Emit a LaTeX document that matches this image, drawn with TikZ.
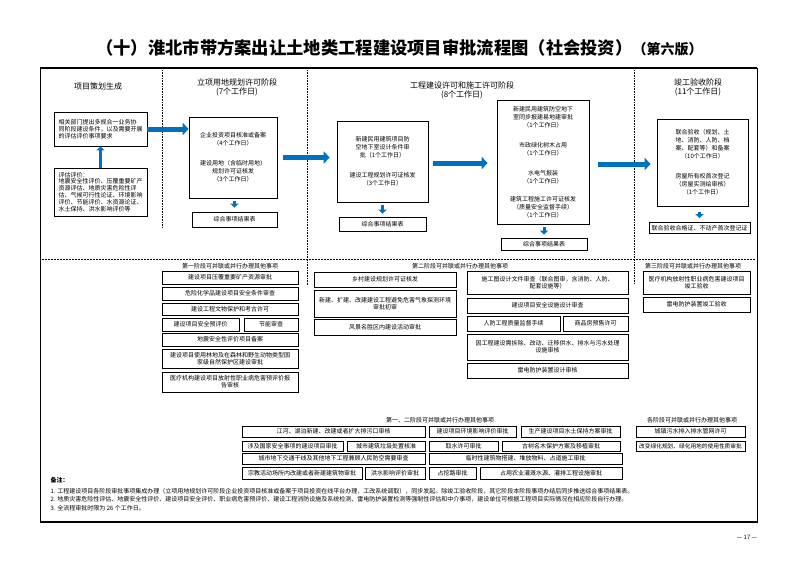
\documentclass[tikz,border=0pt]{standalone}
\usepackage{fontspec}
\newfontfamily\cjk{Noto Sans CJK SC}
\usetikzlibrary{arrows.meta}
\definecolor{arrowblue}{RGB}{0,112,192}
\tikzset{
 txt/.style={font=\cjk\fontsize{6}{7}\selectfont, align=center, inner sep=0.5pt},
 box/.style={txt, draw, line width=0.7pt},
 topbox/.style={box, font=\cjk\fontsize{6}{8}\selectfont},
 sz/.style 2 args={minimum width=#1pt, minimum height=#2pt},
 arrbig/.style={draw=arrowblue, line width=5pt, -{Triangle[length=6pt,width=12pt]}},
 arrsm/.style={draw=arrowblue, line width=3pt, -{Triangle[length=4pt,width=8pt]}},
 vdot/.style={densely dotted, line width=0.6pt},
 hdash/.style={dash pattern=on 2pt off 1pt, line width=0.5pt},
 hdr/.style={font=\cjk\fontsize{8}{9}\selectfont, align=center, inner sep=0pt},
}
\begin{document}
\begin{tikzpicture}[x=1pt,y=-1pt]
\useasboundingbox (0,0) rectangle (800,565);
\fill[white] (0,0) rectangle (800,565);

% title
\node[font=\cjk\bfseries\fontsize{17.3}{18}\selectfont, inner sep=0pt, anchor=west] (title) at (96,48)
 {（十）淮北市带方案出让土地类工程建设项目审批流程图（社会投资）{\fontsize{14}{15}\selectfont（第六版）}};

% frame
\draw[line width=0.6pt] (40,68) rectangle (757,522);
\draw[line width=1.8pt] (40,68) -- (757,68);
\draw[line width=1.8pt] (40,522) -- (757,522);

% separators
\draw[vdot] (162,70) -- (162,228);
\draw[vdot] (307,70) -- (307,285);
\draw[vdot] (634,70) -- (634,283);
\draw[hdash] (42,259) -- (755,259);

% headers
\node[hdr] (h1) at (98,86) {项目策划生成};
\node[hdr] (h2) at (237,87) {立项用地规划许可阶段\\(7个工作日)};
\node[hdr] (h3) at (462,90.5) {工程建设许可和施工许可阶段\\(8个工作日)};
\node[hdr] (h4) at (698,87) {竣工验收阶段\\(11个工作日)};

% stage 0
\node[topbox, sz={93}{34}, align=left, font=\cjk\fontsize{6}{6.8}\selectfont] (A) at (100.5,129)
 {相关部门提出多规合一业务协\\同阶段建设条件，以及需要开展\\的评估评价事项要求};
\node[topbox, sz={93}{48}, align=left, font=\cjk\fontsize{6}{6.9}\selectfont] (B) at (100.5,192)
 {评估评价：\\地震安全性评价、压覆重要矿产\\资源评估、地质灾害危险性评\\估、气候可行性论证、环境影响\\评价、节能评价、水资源论证、\\水土保持、洪水影响评价等};

% stage 1
\node[topbox, sz={88}{81}] (C) at (233,157.5)
 {企业投资项目核准或备案\\（4个工作日）\\[12pt]建设用地（含临时用地）\\规划许可证核发\\（3个工作日）};
\node[topbox, sz={85}{15}] (C2) at (234.5,219.5) {综合事项结果表};

% stage 2
\node[topbox, sz={91}{81}] (D) at (382.5,161.5)
 {新建民用建筑项目防\\空地下室设计条件审\\批（1个工作日）\\[12pt]建设工程规划许可证核发\\（3个工作日）};
\node[topbox, sz={87}{14}] (D2) at (382.5,224) {综合事项结果表};

\node[topbox, sz={92}{124}] (E) at (543,162)
 {新建民用建筑防空地下\\室同步报建易地建审批\\（1个工作日）\\[12pt]市政绿化树木占用\\（1个工作日）\\[12pt]水电气报装\\（1个工作日）\\[10pt]建筑工程施工许可证核发\\（质量安全监督手续）\\（1个工作日）};
\node[topbox, sz={86}{12}] (E2) at (544,244) {综合事项结果表};

% stage 3
\node[topbox, sz={91}{87}] (F) at (702.5,162.5)
 {联合验收（规划、土\\地、消防、人防、档\\案、配套等）和备案\\（10个工作日）\\[12pt]房屋所有权首次登记\\（房屋实测绘审核）\\（1个工作日）};
\node[topbox, sz={101}{11}] (F2) at (699.5,228) {联合验收合格证、不动产首次登记证};

% main arrows
\draw[arrsm] (B.north) -- (A.south);
\draw[arrbig] (A.east) -- (A.east -| C.west);
\draw[arrsm, shorten <=3pt, shorten >=4pt] (C2.north |- C.south) -- (C2.north);
\draw[arrbig, shorten <=6pt, shorten >=7pt] (C.east) -- (C.east -| D.west);
\draw[arrsm, shorten <=3pt, shorten >=3pt] (D.south) -- (D2.north);
\draw[arrbig, shorten <=5pt, shorten >=9pt] ([yshift=-1.5pt]D.east) -- ([yshift=-1.5pt]D.east -| E.west);
\draw[arrsm, shorten <=3pt, shorten >=3pt] (E2.north |- E.south) -- (E2.north);
\draw[arrbig, shorten <=9pt, shorten >=6pt] ([yshift=-2pt]E.east) -- ([yshift=-2pt]E.east -| F.west);
\draw[arrsm, shorten <=6pt, shorten >=4pt] (F2.north |- F.south) -- (F2.north);

% parallel items, stages
\node[txt] (L1) at (230,266) {第一阶段可并联或并行办理其他事项};
\node[txt] (L2) at (460,266) {第二阶段可并联或并行办理其他事项};
\node[txt] (L3) at (693,266) {第三阶段可并联或并行办理其他事项};

\node[box, sz={136}{13}] (p1a) at (230,277.5) {建设项目压覆重要矿产资源审批};
\node[box, sz={136}{13}] (p1b) at (230,293.5) {危险化学品建设项目安全条件审查};
\node[box, sz={136}{12}] (p1c) at (230,309) {建设工程文物保护和考古许可};
\node[box, sz={77}{13}] (p1d) at (200.5,324.5) {建设项目安全预评价};
\node[box, sz={54}{13}] (p1e) at (271,324.5) {节能审查};
\node[box, sz={136}{13}] (p1f) at (230,339.5) {地震安全性评价项目备案};
\node[box, sz={136}{19}] (p1g) at (230,358.5) {建设项目使用林地及在森林和野生动物类型国\\家级自然保护区建设审批};
\node[box, sz={136}{20}] (p1h) at (230,382) {医疗机构建设项目放射性职业病危害预评价报\\告审核};

\node[box, sz={142}{15}] (p2a) at (385,279.5) {乡村建设规划许可证核发};
\node[box, sz={142}{27}] (p2b) at (385,303.5) {新建、扩建、改建建设工程避免危害气象探测环境\\审批初审};
\node[box, sz={142}{16}] (p2c) at (385,327) {风景名胜区内建设活动审批};

\node[box, sz={161}{23}] (p3a) at (547.5,282.5) {施工图设计文件审查（联合图审，含消防、人防、\\配套设施等）};
\node[box, sz={161}{15}] (p3b) at (547.5,305.5) {建设项目安全设施设计审查};
\node[box, sz={93}{15}] (p3c) at (513.5,323.5) {人防工程质量监督手续};
\node[box, sz={65}{15}] (p3d) at (595.5,323.5) {商品房预售许可};
\node[box, sz={161}{26}] (p3e) at (547.5,347) {因工程建设需拆除、改动、迁移供水、排水与污水处理\\设施审核};
\node[box, sz={161}{15}] (p3f) at (547.5,370.5) {雷电防护装置设计审核};

\node[box, sz={107}{23}] (p4a) at (696.5,282.5) {医疗机构放射性职业病危害建设项目\\竣工验收};
\node[box, sz={107}{15}] (p4b) at (696.5,304.5) {雷电防护装置竣工验收};

% bottom parallel items
\node[txt] (L4) at (440,420) {第一、二阶段可并联或并行办理其他事项};
\node[txt] (L5) at (692,420) {各阶段可并联或并行办理其他事项};

\node[box, sz={183}{11}] (q1a) at (333.5,431.5) {江河、湖泊新建、改建或者扩大排污口审核};
\node[box, sz={87}{11}] (q1b) at (472.5,431.5) {建设项目环境影响评价审批};
\node[box, sz={99}{11}] (q1c) at (570.5,431.5) {生产建设项目水土保持方案审批};
\node[box, sz={101}{10}] (q2a) at (292.5,446) {涉及国家安全事项的建设项目审批};
\node[box, sz={78}{10}] (q2b) at (386,446) {城市建筑垃圾处置核准};
\node[box, sz={69}{10}] (q2c) at (463.5,446) {取水许可审批};
\node[box, sz={118}{10}] (q2d) at (561,446) {古树名木保护方案及移植审批};
\node[box, sz={183}{11}] (q3a) at (333.5,458.5) {城市地下交通干线及其他地下工程兼顾人民防空需要审查};
\node[box, sz={193}{11}] (q3b) at (525.5,458.5) {临时性建筑物搭建、堆放物料、占道施工审批};
\node[box, sz={120}{12}] (q4a) at (302,473) {宗教活动场所内改建或者新建建筑物审批};
\node[box, sz={60}{12}] (q4b) at (395,473) {洪水影响评价审批};
\node[box, sz={47}{12}] (q4c) at (452.5,473) {占挖路审批};
\node[box, sz={142}{12}] (q4d) at (551,473) {占用农业灌溉水源、灌排工程设施审批};
\node[box, sz={109}{11}] (q5a) at (690.5,431.5) {城镇污水排入排水管网许可};
\node[box, sz={109}{10}, font=\cjk\fontsize{5.7}{7}\selectfont] (q5b) at (690.5,446) {改变绿化规划、绿化用地的使用性质审批};

% notes
\node[txt, anchor=west, font=\cjk\bfseries\fontsize{6}{7}\selectfont] (n0) at (50,480) {备注：};
\node[txt, anchor=west] (n1) at (50,491) {1. 工程建设项目各阶段审批事项集成办理（立项用地规划许可阶段企业投资项目核准或备案于项目投资在线平台办理，工改系统调取），同步发起。除竣工验收阶段，其它阶段本阶段事项办结后同步推送综合事项结果表。};
\node[txt, anchor=west] (n2) at (50,499.5) {2. 地质灾害危险性评估、地震安全性评价、建设项目安全评价、职业病危害预评价、建设工程消防设施及系统检测、雷电防护装置检测等强制性评估和中介事项，建设单位可根据工程项目实际情况在相应阶段自行办理。};
\node[txt, anchor=west] (n3) at (50,508) {3. 全流程审批时限为 26 个工作日。};
\node[txt] (pg) at (747,537) {— 17 —};
\end{tikzpicture}
\end{document}
